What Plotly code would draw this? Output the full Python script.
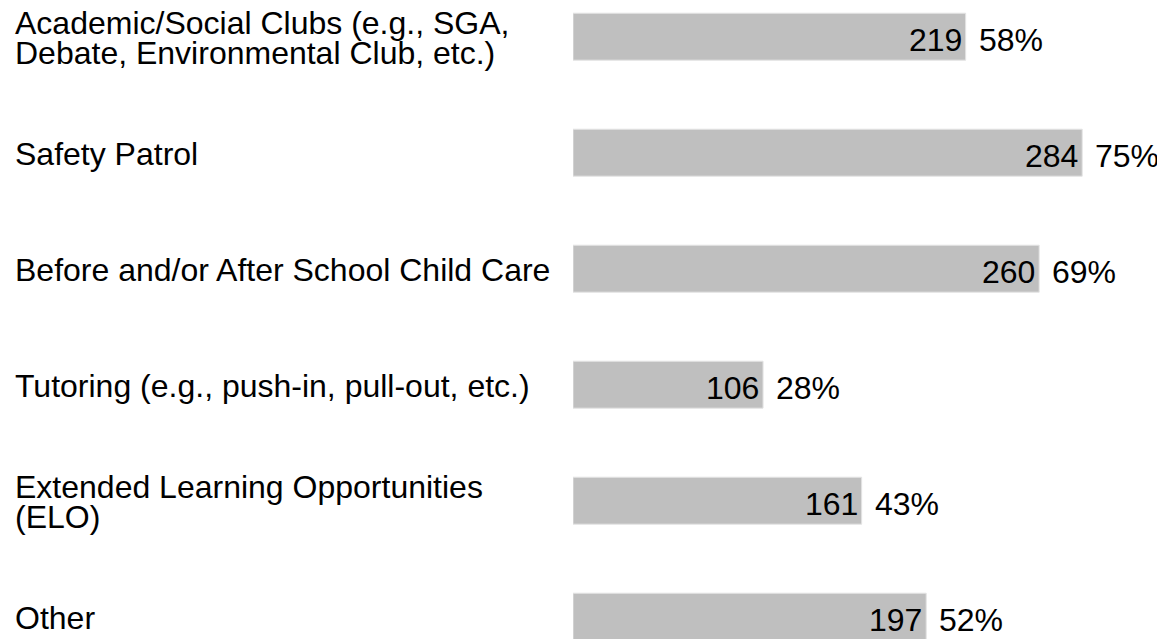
import plotly.graph_objects as go

categories = [
    "Academic/Social Clubs (e.g., SGA,\nDebate, Environmental Club, etc.)",
    "Safety Patrol",
    "Before and/or After School Child Care",
    "Tutoring (e.g., push-in, pull-out, etc.)",
    "Extended Learning Opportunities\n(ELO)",
    "Other",
]
counts = [219, 284, 260, 106, 161, 197]
percents = ["58%", "75%", "69%", "28%", "43%", "52%"]

FONT = "Liberation Sans, Arial, sans-serif"
FS = 32
# page body has an 8px margin; the figure sits at (8, 8)
W, H = 1157, 631
LEFT = 565
PX_PER_UNIT = 1.793
STEP = 116.0
FIRST_CENTER = 28.7

idx = list(range(len(categories)))

fig = go.Figure()
fig.add_trace(go.Bar(
    x=counts, y=idx, orientation="h", width=0.405,
    marker=dict(color="#bfbfbf", line=dict(color="#e4e4e4", width=1)),
    hoverinfo="skip", showlegend=False,
))

annotations = []
for i, (cat, c, p) in enumerate(zip(categories, counts, percents)):
    lines = cat.split("\n")
    n = len(lines)
    for j, ln in enumerate(lines):
        offset = (j - (n - 1) / 2) * 30
        annotations.append(dict(
            x=(5 - LEFT) / (W - LEFT), xref="paper", y=i, yref="y",
            text=ln, showarrow=False, xanchor="left", yanchor="middle",
            yshift=-offset - 1, font=dict(family=FONT, size=FS, color="#000000"),
        ))
    annotations.append(dict(
        x=c, xref="x", y=i, yref="y", text=str(c), showarrow=False,
        xanchor="right", yanchor="middle", xshift=-2, yshift=-3,
        font=dict(family=FONT, size=FS, color="#000000"),
    ))
    annotations.append(dict(
        x=c, xref="x", y=i, yref="y", text=p, showarrow=False,
        xanchor="left", yanchor="middle", xshift=11, yshift=-3,
        font=dict(family=FONT, size=FS, color="#000000"),
    ))

top = -FIRST_CENTER / STEP
bottom = top + H / STEP

fig.update_layout(
    width=W, height=H,
    margin=dict(l=LEFT, r=0, t=0, b=0),
    paper_bgcolor="white", plot_bgcolor="white",
    xaxis=dict(range=[0, (W - LEFT) / PX_PER_UNIT], visible=False, fixedrange=True),
    yaxis=dict(range=[bottom, top], visible=False, fixedrange=True),
    annotations=annotations,
    showlegend=False,
)

fig.write_html("out.html", config={"displayModeBar": False})
